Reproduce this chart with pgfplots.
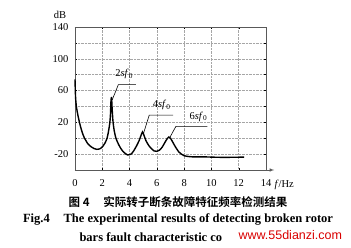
\documentclass[border=0pt]{standalone}
\usepackage{fontspec}
\setmainfont{Liberation Serif}
\newfontfamily\cjk{Noto Sans CJK SC}[BoldFont={* Bold}]
\newfontfamily\wm{Liberation Sans}
\usepackage{pgfplots}
\pgfplotsset{compat=1.18}
\begin{document}
\begin{tikzpicture}
\useasboundingbox (0pt,0pt) rectangle (351pt,247pt);
\begin{axis}[
  at={(75pt,77pt)}, anchor=south west,
  scale only axis, width=191pt, height=143pt,
  xmin=0, xmax=14, ymin=-40, ymax=140,
  xtick={0,2,...,14},
  ytick={-20,20,60,100,140},
  minor ytick={-40,0,40,80,120},
  grid=both,
  major grid style={densely dotted, gray!70, line width=0.5pt},
  minor grid style={densely dotted, gray!70, line width=0.5pt},
  tick style={black, line width=0.4pt},
  major tick length=2pt, minor tick length=2pt,
  tick align=inside,
  axis line style={line width=0.6pt, gray!70!black},
  /pgf/number format/assume math mode=true,
  tick label style={font=\fontsize{10.5}{12}\selectfont},
  xticklabel style={yshift=-6pt},
  yticklabel style={xshift=-3pt},
  clip=false,
]
\addplot[black, line width=1.4pt, smooth, tension=0.4] coordinates {
(0,74) (0.04,52) (0.1,40) (0.2,30) (0.3,22) (0.4,15) (0.5,9) (0.6,4) (0.7,0)
(0.8,-3) (0.9,-6) (1.0,-8) (1.2,-11) (1.4,-13) (1.6,-14) (1.8,-13.5) (2.0,-11)
(2.2,-6) (2.35,0) (2.45,8) (2.55,19) (2.6,30) (2.64,48) (2.68,51) (2.72,38) (2.78,22)
(2.87,10) (3.0,0) (3.2,-8) (3.4,-14) (3.6,-18) (3.85,-21) (4.1,-20) (4.3,-16)
(4.5,-10) (4.7,-3) (4.85,4) (4.95,8) (5.05,4) (5.2,-3) (5.4,-9) (5.6,-13)
(5.8,-16) (6.0,-16.5) (6.2,-15) (6.4,-11) (6.6,-5) (6.78,0) (6.88,1.5) (7.0,0)
(7.2,-6) (7.4,-12) (7.6,-17) (7.8,-20) (8.0,-22) (8.3,-23) (8.7,-23.5)
(9.5,-23.5) (10.5,-24) (11.5,-24) (12.4,-23.8)
};
\draw[black, line width=0.6pt] (axis cs:2.72,48) -- (axis cs:3.18,67.5) -- (axis cs:4.46,67.5);
\draw[black, line width=0.6pt] (axis cs:5.02,6) -- (axis cs:5.44,29) -- (axis cs:7.2,29);
\draw[black, line width=0.6pt] (axis cs:6.95,1) -- (axis cs:7.4,15) -- (axis cs:9.7,15);
\node[font=\fontsize{10.5}{12}\selectfont] at (axis cs:3.6,81) {2\textit{sf}\textsubscript{0}};
\node[font=\fontsize{10.5}{12}\selectfont] at (axis cs:6.35,42) {4\textit{sf}\textsubscript{0}};
\node[font=\fontsize{10.5}{12}\selectfont] at (axis cs:9.05,27) {6\textit{sf}\textsubscript{0}};
\draw[line width=0.6pt, gray!70!black, -latex] (axis cs:14,-40) -- (axis cs:14.6,-40);
\end{axis}
\node[font=\fontsize{10.5}{12}\selectfont] at (60pt,232pt) {dB};
\node[font=\fontsize{10.5}{12}\selectfont, anchor=west] at (271pt,62pt) {\textit{f}/Hz};
\node[font=\cjk\bfseries\fontsize{11.5}{13}\selectfont] at (178pt,45pt) {图 4\hspace{1.2em}实际转子断条故障特征频率检测结果};
\node[font=\bfseries\fontsize{12.5}{14}\selectfont] at (178pt,28pt) {Fig.4\hspace{1.1em}The experimental results of detecting broken rotor};
\node[font=\bfseries\fontsize{12.5}{14}\selectfont, anchor=west] at (76pt,10pt) {bars fault characteristic co};
\node[font=\wm\fontsize{12.5}{14}\selectfont, text=red!85!black, anchor=west] at (235pt,12pt) {www.55dianzi.com};
\end{tikzpicture}
\end{document}
